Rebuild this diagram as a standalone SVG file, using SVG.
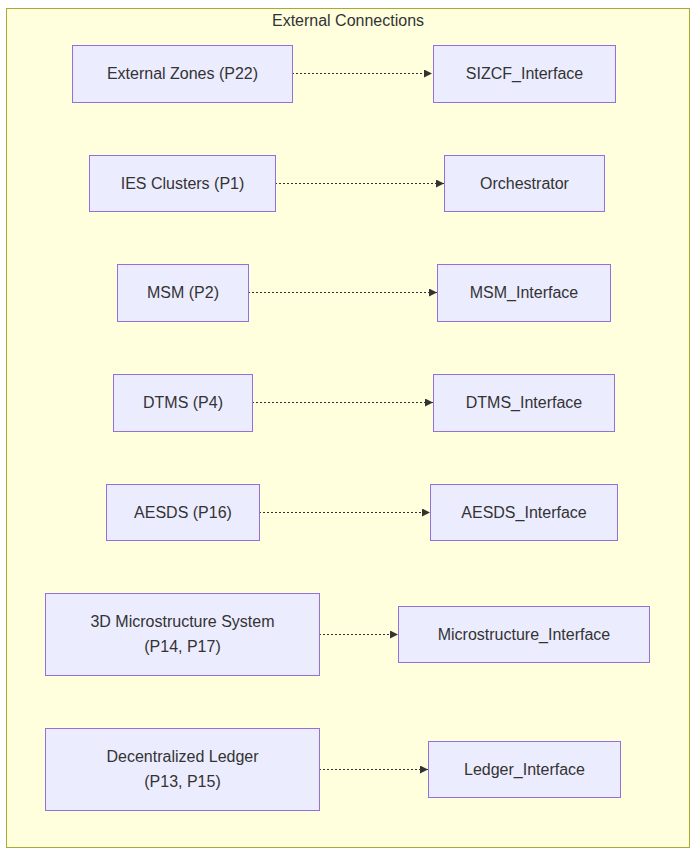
<svg xmlns="http://www.w3.org/2000/svg" width="697" height="852" viewBox="0 0 697 852">
<defs>
<style>
.cluster{fill:#ffffde;stroke:#aaaa33;stroke-width:1}
.node rect{fill:#ECECFF;stroke:#9370DB;stroke-width:1}
text{font-family:"Trebuchet MS","Liberation Sans",Arial,sans-serif;font-size:16px;fill:#333333;text-anchor:middle;dominant-baseline:central}
.edge{stroke:#333333;stroke-width:1;stroke-dasharray:2 2;fill:none}
</style>
<marker id="arrow" viewBox="0 0 10 10" refX="10" refY="5" markerWidth="8" markerHeight="8" markerUnits="userSpaceOnUse" orient="auto">
<path d="M0,0 L10,5 L0,10 z" fill="#333333"/>
</marker>
</defs>
<rect width="697" height="852" fill="#ffffff"/>
<g id="cluster-external">
<rect class="cluster" x="6.5" y="8.5" width="683" height="839"/>
<text x="348" y="20">External Connections</text>
</g>
<g id="edges">
<line class="edge" x1="292" y1="73.5" x2="432" y2="73.5" marker-end="url(#arrow)"/>
<line class="edge" x1="275" y1="183.5" x2="444" y2="183.5" marker-end="url(#arrow)"/>
<line class="edge" x1="248" y1="292.5" x2="437" y2="292.5" marker-end="url(#arrow)"/>
<line class="edge" x1="252" y1="402.5" x2="433" y2="402.5" marker-end="url(#arrow)"/>
<line class="edge" x1="259" y1="512.5" x2="430" y2="512.5" marker-end="url(#arrow)"/>
<line class="edge" x1="319" y1="634.5" x2="398" y2="634.5" marker-end="url(#arrow)"/>
<line class="edge" x1="319" y1="769.5" x2="428" y2="769.5" marker-end="url(#arrow)"/>
</g>
<g id="ExternalZones" class="node"><rect x="72.5" y="45.5" width="220" height="57"/><text x="182.5" y="73">External Zones (P22)</text></g>
<g id="SIZCF_Interface" class="node"><rect x="433.5" y="45.5" width="182" height="57"/><text x="524.5" y="73">SIZCF_Interface</text></g>
<g id="IESClusters" class="node"><rect x="89.5" y="155.5" width="186" height="56"/><text x="182.5" y="183">IES Clusters (P1)</text></g>
<g id="Orchestrator" class="node"><rect x="444.5" y="155.5" width="160" height="56"/><text x="524.5" y="183">Orchestrator</text></g>
<g id="MSM" class="node"><rect x="117.5" y="264.5" width="131" height="57"/><text x="183" y="292">MSM (P2)</text></g>
<g id="MSM_Interface" class="node"><rect x="437.5" y="264.5" width="173" height="57"/><text x="524" y="292">MSM_Interface</text></g>
<g id="DTMS" class="node"><rect x="113.5" y="374.5" width="139" height="57"/><text x="183" y="402">DTMS (P4)</text></g>
<g id="DTMS_Interface" class="node"><rect x="433.5" y="374.5" width="181" height="57"/><text x="524" y="402">DTMS_Interface</text></g>
<g id="AESDS" class="node"><rect x="106.5" y="484.5" width="153" height="56"/><text x="183" y="512">AESDS (P16)</text></g>
<g id="AESDS_Interface" class="node"><rect x="430.5" y="484.5" width="187" height="56"/><text x="524" y="512">AESDS_Interface</text></g>
<g id="Microstructure3D" class="node"><rect x="45.5" y="593.5" width="274" height="82"/><text x="182.5" y="621">3D Microstructure System</text><text x="182.5" y="646">(P14, P17)</text></g>
<g id="Microstructure_Interface" class="node"><rect x="398.5" y="606.5" width="251" height="56"/><text x="524" y="634">Microstructure_Interface</text></g>
<g id="DecentralizedLedger" class="node"><rect x="45.5" y="728.5" width="274" height="82"/><text x="182.5" y="756">Decentralized Ledger</text><text x="182.5" y="781">(P13, P15)</text></g>
<g id="Ledger_Interface" class="node"><rect x="428.5" y="741.5" width="192" height="56"/><text x="524.5" y="769">Ledger_Interface</text></g>
</svg>
